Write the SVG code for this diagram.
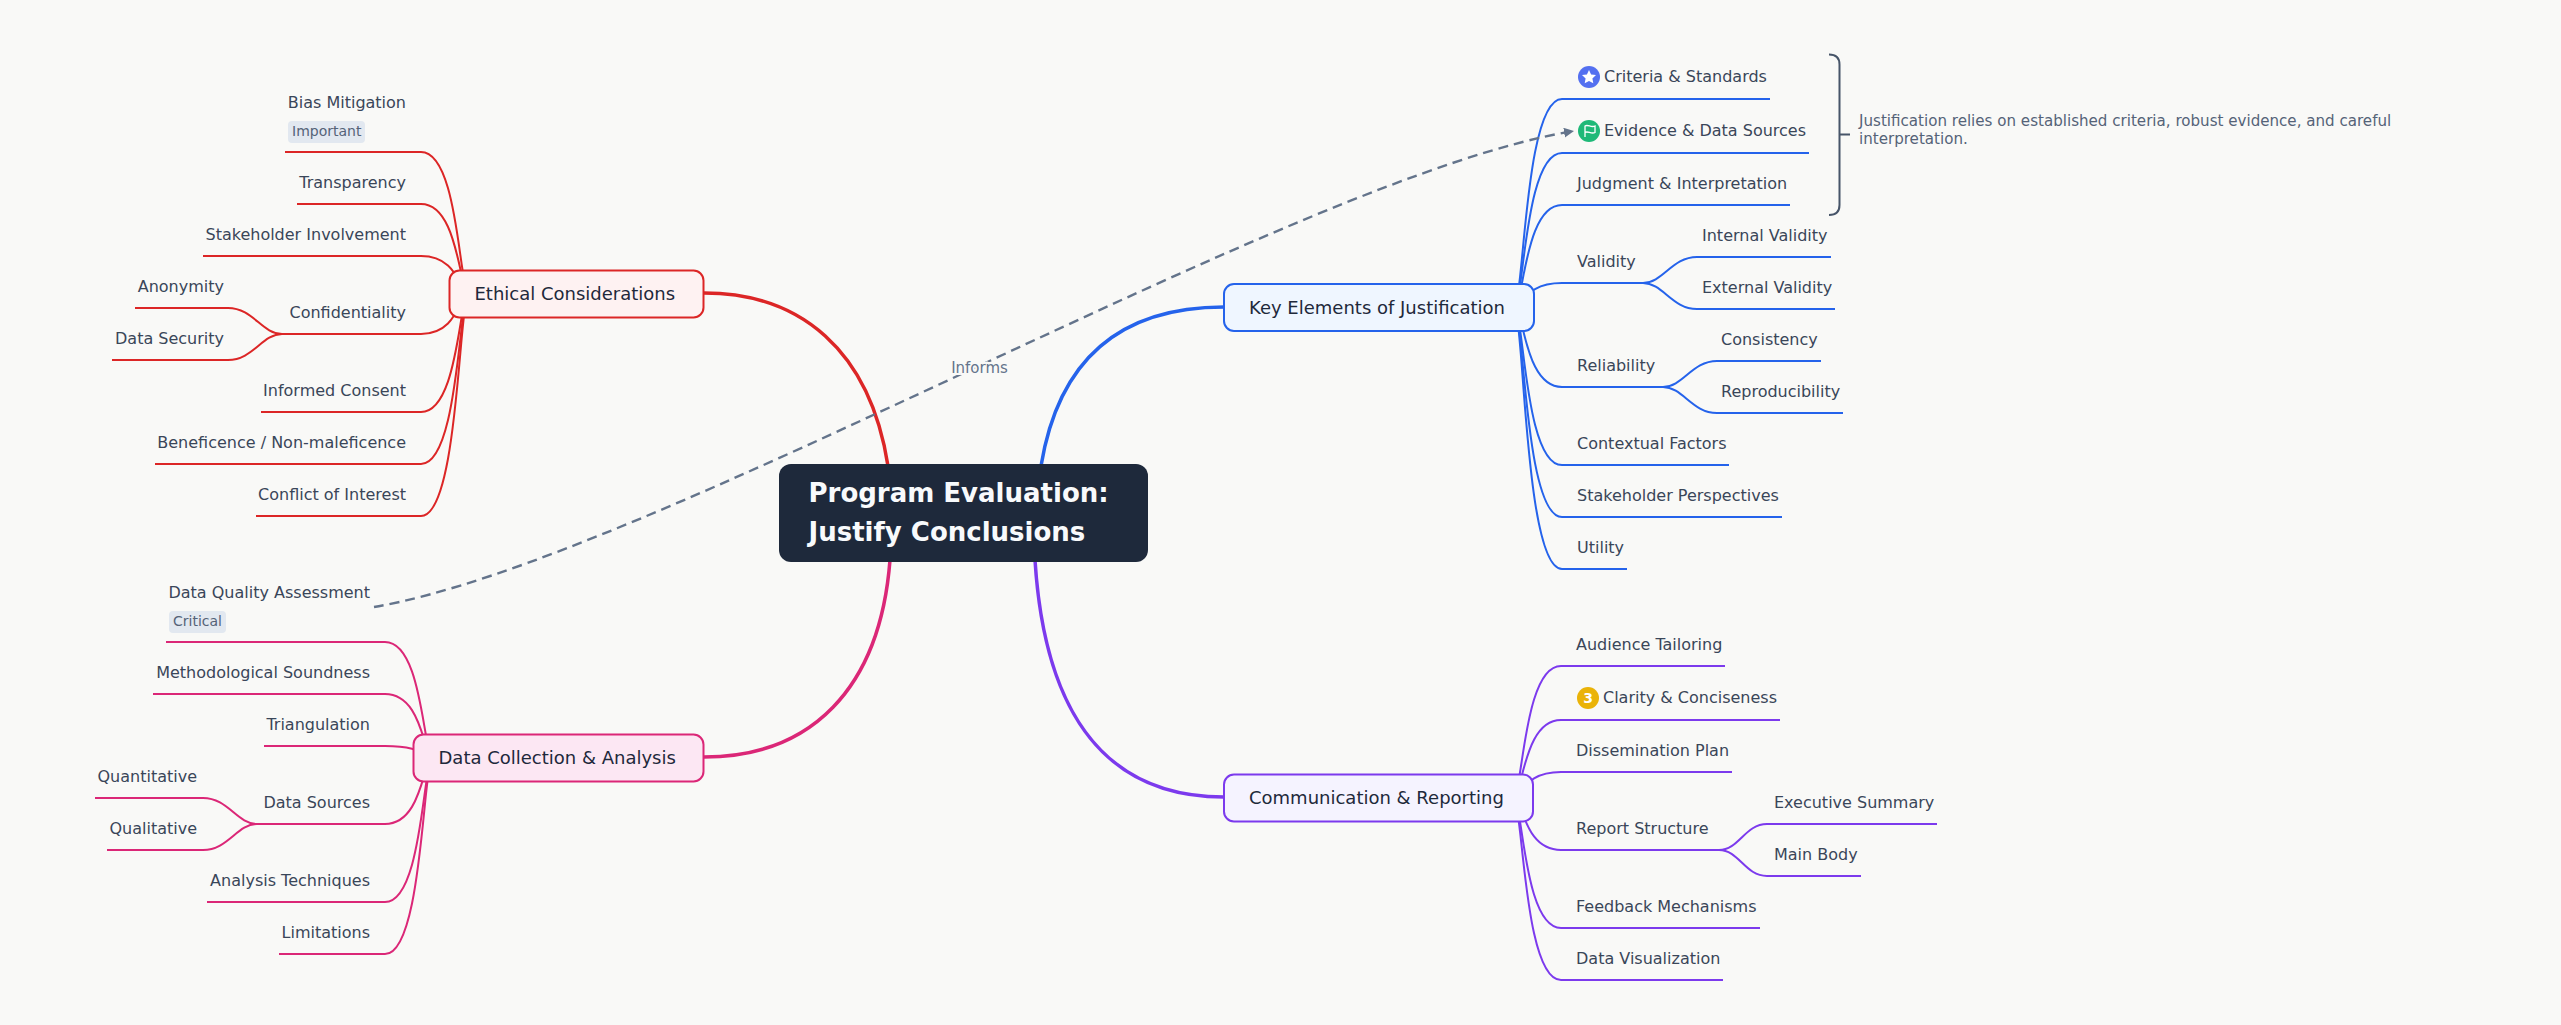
<svg xmlns="http://www.w3.org/2000/svg" width="2561" height="1025" viewBox="0 0 2561 1025">
<defs>
<style>
text{font-family:"DejaVu Sans",sans-serif}
.l{font-size:16px;fill:#3a4659}
.e{text-anchor:end}
.b{font-size:18px;fill:#1e293b}
.r{font-size:26px;font-weight:700;fill:#f8fafc}
.c{fill:none;stroke-width:2;stroke-linecap:butt}
.m{fill:none;stroke-width:3.5}
.red{stroke:#dc2626}.blue{stroke:#2563eb}.pur{stroke:#7c3aed}.pink{stroke:#db2777}
.n{stroke-width:2}
.tag{fill:#e2e8f0}
.tt{font-size:14px;fill:#556378}
.note{font-size:15.100px;fill:#556378}
</style>
<marker id="arr" markerUnits="userSpaceOnUse" markerWidth="12" markerHeight="12" refX="10" refY="5" orient="auto"><path d="M0 0L10 5L0 10Z" fill="#64748b"/></marker>
</defs>
<rect width="2561" height="1025" fill="#f9f9f7"/>
<g id="connectors">
<path class="m red" d="M704 293 C800 293 870 350 888 466"/>
<path class="m blue" d="M1224 307 C1130 307 1060 350 1041 466"/>
<path class="m pur" d="M1224 797 C1110 797 1045 720 1035 560"/>
<path class="m pink" d="M704 757 C810 757 880 690 890 560"/>
<g class="c blue">
<path d="M1514 307 C1524 307 1524 99 1562 99 H1770"/>
<path d="M1514 307 C1524 307 1524 153 1562 153 H1809"/>
<path d="M1514 307 C1524 307 1524 205 1562 205 H1790"/>
<path d="M1514 307 C1524 307 1524 283 1562 283 H1643"/>
<path d="M1643 283 C1663 283 1672 257 1697 257 H1831"/>
<path d="M1643 283 C1663 283 1672 309 1697 309 H1835"/>
<path d="M1514 307 C1524 307 1524 387 1562 387 H1663"/>
<path d="M1663 387 C1683 387 1692 361 1717 361 H1821"/>
<path d="M1663 387 C1683 387 1692 413 1717 413 H1843"/>
<path d="M1514 307 C1524 307 1524 465 1562 465 H1729"/>
<path d="M1514 307 C1524 307 1524 517 1562 517 H1782"/>
<path d="M1514 307 C1524 307 1524 569 1562 569 H1627"/>
</g>
<g class="c pur">
<path d="M1513 797 C1523 797 1523 666 1561 666 H1725"/>
<path d="M1513 797 C1523 797 1523 720 1561 720 H1780"/>
<path d="M1513 797 C1523 797 1523 772 1561 772 H1732"/>
<path d="M1513 797 C1523 797 1523 850 1561 850 H1719"/>
<path d="M1719 850 C1739 850 1745 824 1767 824 H1937"/>
<path d="M1719 850 C1739 850 1745 876 1767 876 H1861"/>
<path d="M1513 797 C1523 797 1523 928 1561 928 H1760"/>
<path d="M1513 797 C1523 797 1523 980 1561 980 H1723"/>
</g>
<g class="c red">
<path d="M469 293 C459 293 459 152 421 152 H285"/>
<path d="M469 293 C459 293 459 204 421 204 H297"/>
<path d="M469 293 C459 293 459 256 421 256 H203"/>
<path d="M469 293 C459 293 459 334 421 334 H282"/>
<path d="M282 334 C262 334 253 308 228 308 H135"/>
<path d="M282 334 C262 334 253 360 228 360 H112"/>
<path d="M469 293 C459 293 459 412 421 412 H261"/>
<path d="M469 293 C459 293 459 464 421 464 H155"/>
<path d="M469 293 C459 293 459 516 421 516 H256"/>
</g>
<g class="c pink">
<path d="M433 757 C423 757 423 642 385 642 H166"/>
<path d="M433 757 C423 757 423 694 385 694 H153"/>
<path d="M433 757 C423 757 423 746 385 746 H264"/>
<path d="M433 757 C423 757 423 824 385 824 H257"/>
<path d="M257 824 C237 824 228 798 203 798 H95"/>
<path d="M257 824 C237 824 228 850 203 850 H107"/>
<path d="M433 757 C423 757 423 902 385 902 H207"/>
<path d="M433 757 C423 757 423 954 385 954 H279"/>
</g>
<path id="link" d="M374 607 C650 560 1300 175 1574 131" fill="none" stroke="#64748b" stroke-width="2.400" stroke-dasharray="10 6" marker-end="url(#arr)"/>
<text x="979.5" y="373" text-anchor="middle" font-size="15" fill="#64748b" stroke="#f9f9f7" stroke-width="4" paint-order="stroke">Informs</text>
</g>
<g id="root"><rect x="779" y="464" width="369" height="98" rx="12" fill="#1e293b"/><text class="r" x="808.5" y="502">Program Evaluation:</text><text class="r" x="808.5" y="541">Justify Conclusions</text></g>
<g id="n-ethical"><rect class="n" x="449.5" y="270.5" width="254" height="47" rx="10" fill="#fef2f2" stroke="#dc2626"/><text class="b" x="474.5" y="300">Ethical Considerations</text></g>
<g id="n-key"><rect class="n" x="1224" y="284" width="310" height="47" rx="10" fill="#eff6ff" stroke="#2563eb"/><text class="b" x="1249" y="314">Key Elements of Justification</text></g>
<g id="n-data"><rect class="n" x="413.5" y="734.5" width="290" height="47" rx="10" fill="#fce7f3" stroke="#db2777"/><text class="b" x="438.5" y="764">Data Collection &amp; Analysis</text></g>
<g id="n-comm"><rect class="n" x="1224" y="774.5" width="309" height="47" rx="10" fill="#f5f3ff" stroke="#7c3aed"/><text class="b" x="1249" y="804">Communication &amp; Reporting</text></g>
<g id="k1"><circle cx="1589" cy="77" r="11" fill="#5470f0"/><path d="M1589 70l2.100 4.500 4.900.6-3.600 3.400.9 4.800-4.300-2.400-4.300 2.400.9-4.800-3.600-3.400 4.900-.6z" fill="#fff"/><text class="l" x="1604" y="82">Criteria &amp; Standards</text></g>
<g id="k2"><circle cx="1589" cy="131" r="11" fill="#1fb978"/><path d="M1585 137V126C1588 124 1591 128 1595 126V132.500C1591 134.500 1588 130.500 1585 132.500" fill="none" stroke="#fff" stroke-width="1.300"/><text class="l" x="1604" y="136">Evidence &amp; Data Sources</text></g>
<g id="k3"><text class="l" x="1577" y="189">Judgment &amp; Interpretation</text></g>
<g id="k4"><text class="l" x="1577" y="267">Validity</text></g>
<g id="k41"><text class="l" x="1702" y="241">Internal Validity</text></g>
<g id="k42"><text class="l" x="1702" y="293">External Validity</text></g>
<g id="k5"><text class="l" x="1577" y="371">Reliability</text></g>
<g id="k51"><text class="l" x="1721" y="345">Consistency</text></g>
<g id="k52"><text class="l" x="1721" y="397">Reproducibility</text></g>
<g id="k6"><text class="l" x="1577" y="449">Contextual Factors</text></g>
<g id="k7"><text class="l" x="1577" y="501">Stakeholder Perspectives</text></g>
<g id="k8"><text class="l" x="1577" y="553">Utility</text></g>
<g id="summary"><path d="M1829 54.500c7 0 10.500 3 10.500 10V205c0 7-3.500 10-10.500 10M1840 134.500h10" fill="none" stroke="#475569" stroke-width="2"/><text class="note" x="1859" y="126">Justification relies on established criteria, robust evidence, and careful</text><text class="note" x="1859" y="144">interpretation.</text></g>
<g id="c1"><text class="l" x="1576" y="650">Audience Tailoring</text></g>
<g id="c2"><circle cx="1588" cy="698" r="11" fill="#eab308"/><text x="1588" y="703" text-anchor="middle" font-size="14" font-weight="700" fill="#fff">3</text><text class="l" x="1603" y="703">Clarity &amp; Conciseness</text></g>
<g id="c3"><text class="l" x="1576" y="756">Dissemination Plan</text></g>
<g id="c4"><text class="l" x="1576" y="834">Report Structure</text></g>
<g id="c41"><text class="l" x="1774" y="808">Executive Summary</text></g>
<g id="c42"><text class="l" x="1774" y="860">Main Body</text></g>
<g id="c5"><text class="l" x="1576" y="912">Feedback Mechanisms</text></g>
<g id="c6"><text class="l" x="1576" y="964">Data Visualization</text></g>
<g id="e1"><text class="l e" x="406" y="108">Bias Mitigation</text><rect class="tag" x="288" y="121" width="77" height="22" rx="4"/><text class="tt" x="292" y="136">Important</text></g>
<g id="e2"><text class="l e" x="406" y="188">Transparency</text></g>
<g id="e3"><text class="l e" x="406" y="240">Stakeholder Involvement</text></g>
<g id="e4"><text class="l e" x="406" y="318">Confidentiality</text></g>
<g id="e41"><text class="l e" x="224" y="292">Anonymity</text></g>
<g id="e42"><text class="l e" x="224" y="344">Data Security</text></g>
<g id="e5"><text class="l e" x="406" y="396">Informed Consent</text></g>
<g id="e6"><text class="l e" x="406" y="448">Beneficence / Non-maleficence</text></g>
<g id="e7"><text class="l e" x="406" y="500">Conflict of Interest</text></g>
<g id="d1"><text class="l e" x="370" y="598">Data Quality Assessment</text><rect class="tag" x="169" y="611" width="57" height="22" rx="4"/><text class="tt" x="173" y="626">Critical</text></g>
<g id="d2"><text class="l e" x="370" y="678">Methodological Soundness</text></g>
<g id="d3"><text class="l e" x="370" y="730">Triangulation</text></g>
<g id="d4"><text class="l e" x="370" y="808">Data Sources</text></g>
<g id="d41"><text class="l e" x="197" y="782">Quantitative</text></g>
<g id="d42"><text class="l e" x="197" y="834">Qualitative</text></g>
<g id="d5"><text class="l e" x="370" y="886">Analysis Techniques</text></g>
<g id="d6"><text class="l e" x="370" y="938">Limitations</text></g>
</svg>
